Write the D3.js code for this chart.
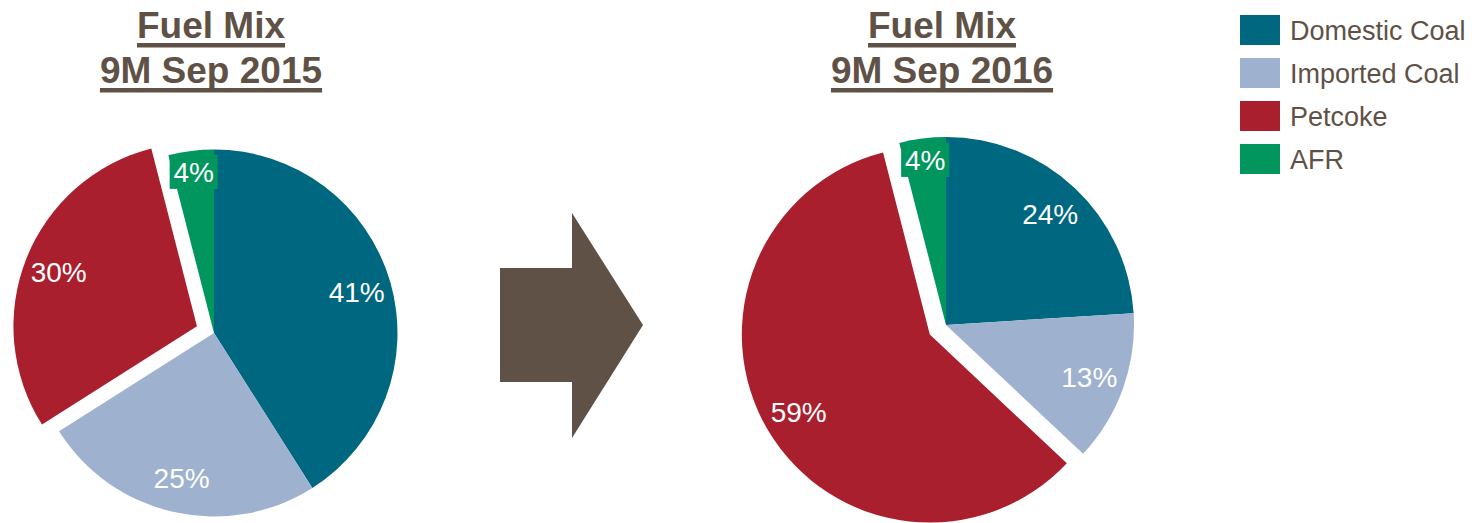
<!DOCTYPE html>
<html>
<head>
<meta charset="utf-8">
<script src="https://cdn.jsdelivr.net/npm/d3@7"></script>
<style>
  html, body { margin: 0; padding: 0; background: #fff; }
  svg { display: block; font-family: "Liberation Sans", Arial, sans-serif; }
</style>
</head>
<body>
<svg id="chart" width="1472" height="523"></svg>
<script>
// fuel categories + colours
const categories = ['Domestic Coal', 'Imported Coal', 'Petcoke', 'AFR']
const colors = ['#006780', '#9eb1cf', '#aa1f2e', '#00965e']

// share of fuel mix, %
const periods = ['9M Sep 2015', '9M Sep 2016']
const values2015 = [41, 25, 30, 4]
const values2016 = [24, 13, 59, 4]
const exploded = 'Petcoke'

const textColor = '#5f5146'
const svg = d3.select('#chart')

const color = d3.scaleOrdinal().domain(categories).range(colors)
const pie = d3.pie().sort(null).value(d => d.value)

// layout of each pie (center x/y, radius)
const layout = [
  { cx: 214, cy: 333, r: 183.5, titleX: 211 },
  { cx: 946, cy: 325, r: 188, titleX: 942 }
]

function drawPie (values, i) {
  const L = layout[i]
  const data = categories.map((c, k) => ({ name: c, value: values[k] }))
  const arcs = pie(data)
  const arc = d3.arc().innerRadius(0).outerRadius(L.r)
  const g = svg.append('g').attr('transform', `translate(${L.cx},${L.cy})`)

  const offset = a => {
    if (a.data.name !== exploded) return [0, 0]
    const m = (a.startAngle + a.endAngle) / 2
    const k = L.r * 0.1
    return [Math.sin(m) * k, -Math.cos(m) * k]
  }

  g.selectAll('path')
    .data(arcs)
    .join('path')
    .attr('d', arc)
    .attr('fill', d => color(d.data.name))
    .attr('transform', d => `translate(${offset(d)})`)

  const labels = g.selectAll('g.lbl')
    .data(arcs)
    .join('g')
    .attr('class', 'lbl')
    .attr('transform', d => {
      const m = (d.startAngle + d.endAngle) / 2
      const lr = L.r * (d.value < 5 ? 0.885 : 0.81)
      const o = offset(d)
      return `translate(${o[0] + Math.sin(m) * lr},${o[1] - Math.cos(m) * lr})`
    })

  // small slices get a filled label box like the original
  labels.filter(d => d.value < 5)
    .append('rect')
    .attr('x', -24).attr('y', -17)
    .attr('width', 48).attr('height', 34)
    .attr('fill', d => color(d.data.name))

  labels.append('text')
    .attr('text-anchor', 'middle')
    .attr('dy', '0.36em')
    .attr('fill', '#fff')
    .attr('font-size', 28)
    .text(d => d.value + '%')

  // title
  const t = svg.append('g').attr('transform', `translate(${L.titleX},0)`)
  ;['Fuel Mix', periods[i]].forEach((line, j) => {
    const y = 38 + j * 45
    const txt = t.append('text')
      .attr('x', 0).attr('y', y)
      .attr('text-anchor', 'middle')
      .attr('font-size', 37)
      .attr('font-weight', 'bold')
      .attr('fill', textColor)
      .text(line)
    const w = txt.node().getComputedTextLength()
    t.append('rect')
      .attr('x', -w / 2).attr('y', y + 5)
      .attr('width', w).attr('height', 4.5)
      .attr('fill', textColor)
  })
}

drawPie(values2015, 0)
drawPie(values2016, 1)

// arrow between the pies
svg.append('path')
  .attr('d', d3.line()([[500, 268], [572, 268], [572, 213], [643, 325], [572, 438], [572, 382], [500, 382]]) + 'Z')
  .attr('fill', textColor)

// legend
const legend = svg.append('g').attr('transform', 'translate(1240,15)')
const item = legend.selectAll('g')
  .data(categories)
  .join('g')
  .attr('transform', (d, i) => `translate(0,${i * 43})`)
item.append('rect')
  .attr('width', 40).attr('height', 30)
  .attr('fill', d => color(d))
item.append('text')
  .attr('x', 50).attr('y', 15)
  .attr('dy', '0.36em')
  .attr('font-size', 27)
  .attr('fill', textColor)
  .text(d => d)
</script>
</body>
</html>
